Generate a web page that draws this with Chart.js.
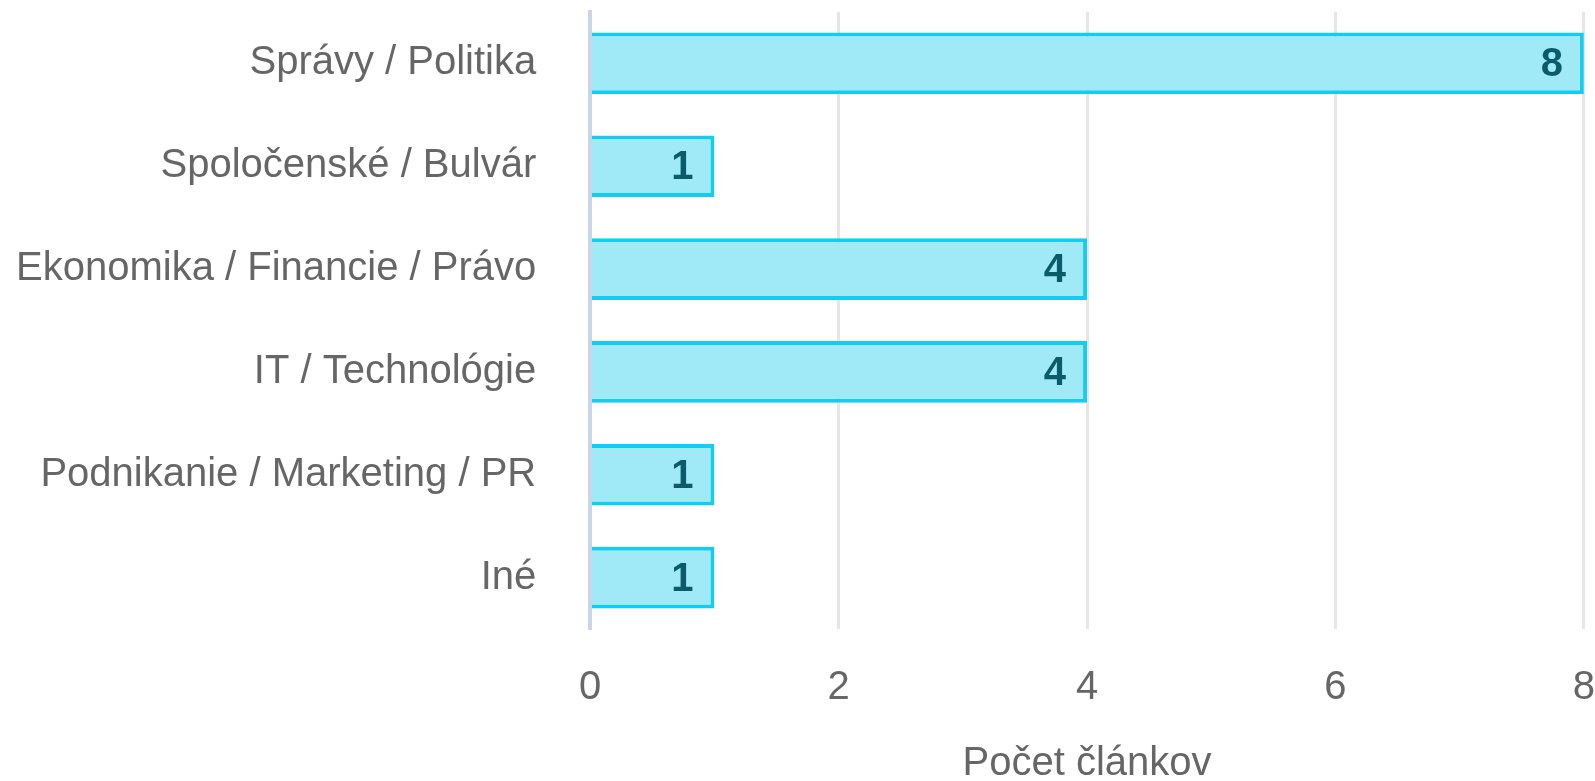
<!DOCTYPE html>
<html>
<head>
<meta charset="utf-8">
<script src="https://cdn.jsdelivr.net/npm/chart.js@4.4.1/dist/chart.umd.min.js"></script>
<style>
  html, body { margin: 0; padding: 0; background: #fff; }
  #wrap { width: 1595px; height: 781px; }
</style>
</head>
<body>
<div id="wrap"><canvas id="barChart"></canvas></div>
<script>
// Data
const categories = ['Správy / Politika', 'Spoločenské / Bulvár', 'Ekonomika / Financie / Právo', 'IT / Technológie', 'Podnikanie / Marketing / PR', 'Iné'];
const counts = [8, 1, 4, 4, 1, 1];
const axisTitle = 'Počet článkov';

const FONT = "'Liberation Sans', Arial, Helvetica, sans-serif";

// draws the count inside the end of each bar
const valueLabels = {
    id: 'valueLabels',
    afterDatasetsDraw(chart) {
        const ctx = chart.ctx;
        const meta = chart.getDatasetMeta(0);
        ctx.save();
        ctx.font = 'bold 40px ' + FONT;
        ctx.fillStyle = '#0b5b6b';
        ctx.textAlign = 'right';
        ctx.textBaseline = 'middle';
        meta.data.forEach((bar, i) => {
            ctx.fillText(String(counts[i]), bar.x - 21, bar.y + 2);
        });
        ctx.restore();
    }
};

function initChart() {
    const canvas = document.getElementById('barChart');
    new Chart(canvas.getContext('2d'), {
        type: 'bar',
        data: {
            labels: categories,
            datasets: [{
                data: counts,
                backgroundColor: '#a0eaf8',
                borderColor: '#12cdf0',
                borderWidth: 4,
                barPercentage: 0.6,
                categoryPercentage: 1
            }]
        },
        options: {
            indexAxis: 'y',
            responsive: true,
            maintainAspectRatio: false,
            animation: false,
            layout: { padding: { top: 2, right: 4, left: 16, bottom: 0 } },
            plugins: {
                legend: { display: false },
                tooltip: { enabled: false }
            },
            scales: {
                x: {
                    min: 0,
                    max: 8,
                    ticks: {
                        stepSize: 2,
                        color: '#666',
                        padding: 0,
                        font: { size: 40, family: FONT }
                    },
                    // tickLength is used as spacing; the tick marks themselves are invisible
                    grid: { color: '#e6e6e6', lineWidth: 3, drawTicks: true, tickLength: 35, tickColor: 'rgba(0,0,0,0)' },
                    border: { display: false },
                    title: {
                        display: true,
                        text: axisTitle,
                        color: '#666',
                        font: { size: 40, family: FONT, lineHeight: 1 },
                        padding: { top: 32, bottom: -3 }
                    }
                },
                y: {
                    ticks: {
                        color: '#666',
                        padding: 0,
                        font: { size: 40, family: FONT, lineHeight: 0.6 }
                    },
                    grid: { drawOnChartArea: false, drawTicks: true, tickLength: 54, tickColor: 'rgba(0,0,0,0)', color: 'rgba(0,0,0,0)' },
                    border: { display: true, color: '#cbd5ea', width: 4 }
                }
            }
        },
        plugins: [valueLabels]
    });
}

document.addEventListener('DOMContentLoaded', initChart);
</script>
</body>
</html>
